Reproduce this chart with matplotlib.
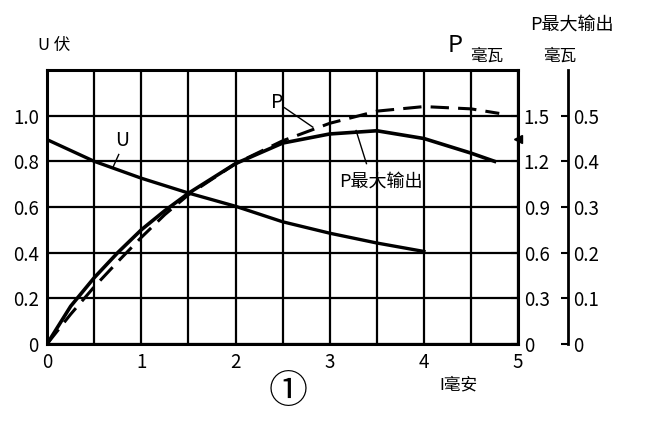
import numpy as np
import matplotlib
matplotlib.use('Agg')
import matplotlib.pyplot as plt

plt.rcParams['font.family'] = ['Noto Sans CJK SC', 'DejaVu Sans']

# 电流 I (毫安)
I_u = [0, 0.5, 1, 1.5, 2, 2.5, 3, 3.5, 4]
# 电压 U (伏)
U = [0.895, 0.80, 0.726, 0.661, 0.603, 0.535, 0.485, 0.442, 0.405]

# P (毫瓦), 虚线
I_p = [0, 0.25, 0.5, 0.75, 1, 1.25, 1.5, 2, 2.5, 3, 3.5, 4, 4.5, 4.8]
P = [0, 0.195, 0.375, 0.54, 0.70, 0.85, 0.98, 1.185, 1.335, 1.45, 1.53, 1.56, 1.545, 1.515]

# P最大输出 (毫瓦), 实线
I_m = [0, 0.25, 0.5, 0.75, 1, 1.25, 1.5, 2, 2.5, 3, 3.5, 4, 4.5, 4.75]
Pmax = [0, 0.0825, 0.145, 0.20, 0.25, 0.292, 0.33, 0.395, 0.44, 0.46, 0.467, 0.45, 0.418, 0.40]

u_ticks = [0, 0.2, 0.4, 0.6, 0.8, 1.0]
u_labels = ['0', '0.2', '0.4', '0.6', '0.8', '1.0']
p_ticks = [0, 0.3, 0.6, 0.9, 1.2, 1.5]
p_labels = ['0', '0.3', '0.6', '0.9', '1.2', '1.5']
m_ticks = [0, 0.1, 0.2, 0.3, 0.4, 0.5]
m_labels = ['0', '0.1', '0.2', '0.3', '0.4', '0.5']

fig = plt.figure(figsize=(6.46, 4.38), dpi=100)
ax = fig.add_axes([0.073, 0.215, 0.729, 0.625])
ax.set_xlim(0, 5)
ax.set_ylim(0, 1.2)
ax.set_xticks(range(6))
ax.set_xticks(np.arange(0, 5.01, 0.5), minor=True)
ax.set_yticks(u_ticks)
ax.set_yticklabels(u_labels)
ax.grid(True, which='both', axis='x', color='black', lw=1.6)
ax.grid(True, which='major', axis='y', color='black', lw=1.6)
ax.tick_params(which='both', length=0, labelsize=13.5, pad=6)
for s in ax.spines.values():
    s.set_linewidth(2.2)

ax.plot(I_u, U, color='black', lw=2.4)

ax2 = ax.twinx()
ax2.set_ylim(0, 1.8)
ax2.set_yticks(p_ticks)
ax2.set_yticklabels(p_labels)
ax2.tick_params(direction='in', length=5, width=1.5, labelsize=13.5, pad=4)
for s in ax2.spines.values():
    s.set_visible(False)
ax2.plot(I_p, P, color='black', lw=2.2, ls=(0, (6, 3)))
ax2.plot(5, 1.35, marker='<', color='black', ms=6, clip_on=False)

ax3 = ax.twinx()
ax3.set_ylim(0, 0.6)
ax3.spines['right'].set_position(('axes', 1.106))
for k in ['left', 'top', 'bottom']:
    ax3.spines[k].set_visible(False)
ax3.spines['right'].set_linewidth(2)
ax3.set_yticks(m_ticks)
ax3.set_yticklabels(m_labels)
ax3.tick_params(direction='in', length=5, width=1.5, labelsize=13.5, pad=4)
ax3.plot(I_m, Pmax, color='black', lw=2.6)

# 曲线标注
ax.text(2.38, 1.06, 'P', fontsize=14, ha='left', va='center')
ax.plot([2.52, 2.82], [1.035, 0.95], color='black', lw=1)
ax.text(0.72, 0.89, 'U', fontsize=14, ha='left', va='center')
ax.plot([0.76, 0.70], [0.83, 0.775], color='black', lw=1)
ax.text(3.1, 0.71, 'P最大输出', fontsize=13, ha='left', va='center')
ax.plot([3.39, 3.28], [0.79, 0.935], color='black', lw=1)

# 轴标题
fig.text(0.059, 0.897, 'U 伏', fontsize=12, ha='left', va='center')
fig.text(0.693, 0.897, 'P', fontsize=17, ha='left', va='center')
fig.text(0.727, 0.872, '毫瓦', fontsize=12, ha='left', va='center')
fig.text(0.840, 0.872, '毫瓦', fontsize=12, ha='left', va='center')
fig.text(0.820, 0.943, 'P最大输出', fontsize=13, ha='left', va='center')
fig.text(0.680, 0.121, 'I毫安', fontsize=12, ha='left', va='center')
fig.text(0.446, 0.105, '①', fontsize=28, ha='center', va='center')

fig.savefig('out.png', dpi=100)
